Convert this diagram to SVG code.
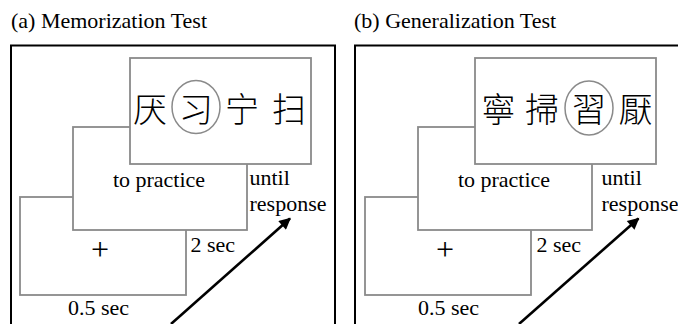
<svg xmlns="http://www.w3.org/2000/svg" width="678" height="324" viewBox="0 0 678 324">
<style>
.t{font-family:"Liberation Serif","Times New Roman",serif;font-size:22px;fill:#000}
.plus{font-family:"Liberation Serif","Times New Roman",serif;font-size:32px;fill:#000;text-anchor:middle}
.title{font-family:"Liberation Serif","Times New Roman",serif;font-size:22px;fill:#000}
.frame{fill:none;stroke:#000;stroke-width:2}
.box{fill:#fff;stroke:#8a8a8a;stroke-width:1.8}
.cjk{font-size:34px;fill:#000;text-anchor:middle;font-weight:300}
.sc{font-family:"Noto Sans CJK SC",sans-serif}
.tc{font-family:"Noto Sans CJK TC",sans-serif}
.ring{fill:none;stroke:#8a8a8a;stroke-width:1.5}
.arrow{stroke:#000;stroke-width:2.6;fill:none;marker-end:url(#ah)}
</style>
<defs>
<marker id="ah" viewBox="0 0 10 10" refX="9" refY="5" markerWidth="5.5" markerHeight="4.5" markerUnits="strokeWidth" orient="auto">
<path d="M0,0 L10,5 L0,10 z" fill="#000"/>
</marker>
</defs>
<rect width="678" height="324" fill="#fff"/>

<g id="panel-a">
<text id="title-a" class="title" x="11" y="27.5">(a) Memorization Test</text>
<rect id="frame-a" class="frame" x="11" y="45.5" width="324" height="300"/>
<g id="a-fixation">
<rect class="box" x="20" y="197" width="166" height="98"/>
<text class="plus" x="100" y="259.5">+</text>
</g>
<g id="a-instruction">
<rect class="box" x="73" y="127" width="174" height="103"/>
<text class="t" x="159" y="187" text-anchor="middle">to practice</text>
</g>
<g id="a-choices">
<rect class="box" x="130" y="58" width="181" height="106"/>
<text class="cjk sc" x="150" y="122">厌</text>
<text class="cjk sc" x="196" y="122">习</text>
<text class="cjk sc" x="242" y="122">宁</text>
<text class="cjk sc" x="289" y="122">扫</text>
<ellipse class="ring" cx="196" cy="107" rx="24" ry="26.5"/>
</g>
<text id="a-until" class="t" x="249.5" y="184.5">until</text>
<text id="a-response" class="t" x="249.5" y="210.5">response</text>
<text id="a-2sec" class="t" x="190.5" y="251.5">2 sec</text>
<text id="a-05sec" class="t" x="68" y="315">0.5 sec</text>
</g>

<g id="panel-b">
<text id="title-b" class="title" x="354" y="27.5">(b) Generalization Test</text>
<rect id="frame-b" class="frame" x="355" y="45.5" width="340" height="300"/>
<g id="b-fixation">
<rect class="box" x="365" y="197" width="166" height="98"/>
<text class="plus" x="445" y="259.5">+</text>
</g>
<g id="b-instruction">
<rect class="box" x="418" y="127" width="174" height="103"/>
<text class="t" x="504" y="187" text-anchor="middle">to practice</text>
</g>
<g id="b-choices">
<rect class="box" x="475" y="58" width="181" height="106"/>
<text class="cjk tc" x="498.5" y="122">寧</text>
<text class="cjk tc" x="542" y="122">掃</text>
<text class="cjk tc" x="589" y="122">習</text>
<text class="cjk tc" x="635.5" y="122">厭</text>
<ellipse class="ring" cx="589" cy="108" rx="24" ry="27"/>
</g>
<text id="b-until" class="t" x="601.5" y="184.5">until</text>
<text id="b-response" class="t" x="601.5" y="210.5">response</text>
<text id="b-2sec" class="t" x="536.5" y="251.5">2 sec</text>
<text id="b-05sec" class="t" x="418" y="315">0.5 sec</text>
</g>

<g id="connectors">
<line class="arrow" x1="171" y1="324" x2="290" y2="218.5"/>
<line class="arrow" x1="519" y1="324" x2="638.5" y2="218.5"/>
</g>
</svg>
